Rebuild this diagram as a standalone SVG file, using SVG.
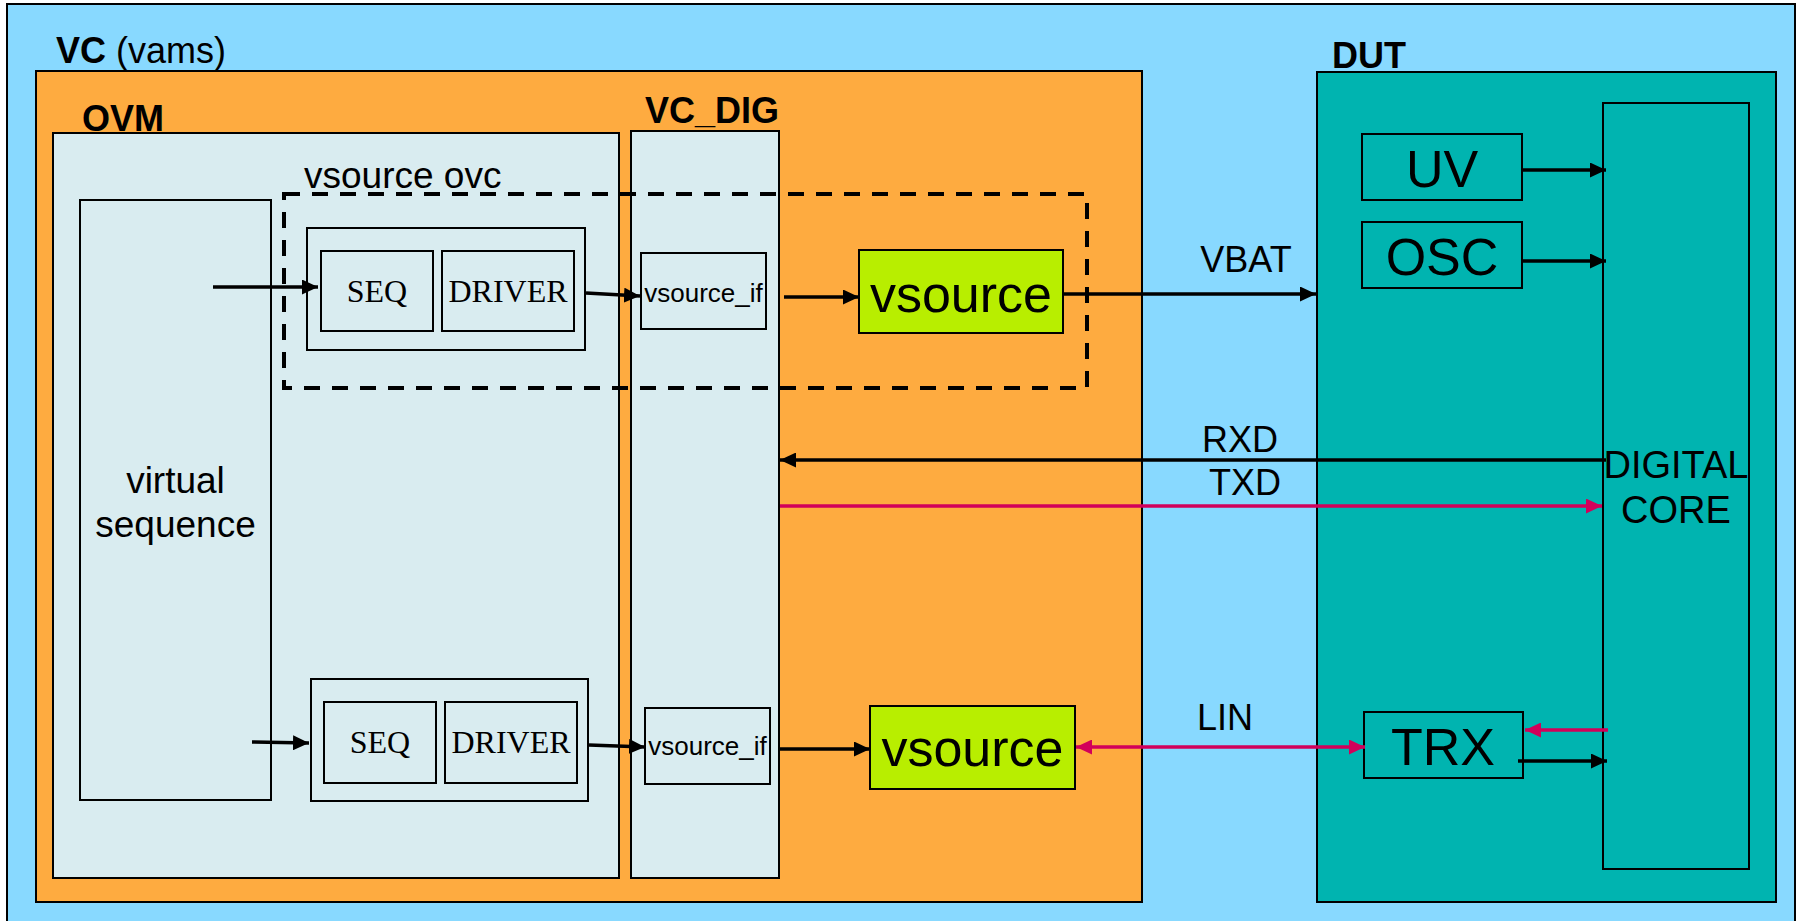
<svg xmlns="http://www.w3.org/2000/svg" width="1797" height="921" viewBox="0 0 1797 921">
  <style>
    text { font-family: "Liberation Sans", Arial, sans-serif; fill: #000; }
    .lbl { font-size: 36px; }
    .lbl37 { font-size: 37px; }
    .lbl38 { font-size: 38px; }
    .bold { font-weight: bold; }
    .mid { text-anchor: middle; }
    .big { font-size: 52px; }
    .serif { font-family: "Liberation Serif", "Times New Roman", serif; font-size: 32px; }
    .small { font-size: 26px; }
    .box { stroke: #000; stroke-width: 2; }
    .pale { fill: #D9ECF0; }
    .teal { fill: #00B4B0; }
    .lime { fill: #B8EE00; }
    .wire { fill: none; stroke: #000; stroke-width: 3.5; }
    .wire-red { fill: none; stroke: #D2005A; stroke-width: 3.5; }
  </style>
  <defs>
    <marker id="ah" markerUnits="userSpaceOnUse" markerWidth="17" markerHeight="15" refX="16" refY="7.5" orient="auto">
      <path d="M0,0 L16,7.5 L0,15 z" fill="#000"/>
    </marker>
    <marker id="ah-red" markerUnits="userSpaceOnUse" markerWidth="17" markerHeight="15" refX="16" refY="7.5" orient="auto-start-reverse">
      <path d="M0,0 L16,7.5 L0,15 z" fill="#D2005A"/>
    </marker>
  </defs>

  <rect x="0" y="0" width="1797" height="921" fill="#fff"/>

  <!-- verification component environment -->
  <g id="vc">
    <rect class="box" x="7" y="4" width="1788" height="925" fill="#88D9FF"/>
    <text class="lbl" x="56" y="63"><tspan class="bold">VC</tspan> (vams)</text>
    <rect class="box" x="36" y="71" width="1106" height="831" fill="#FEAB40"/>
  </g>

  <g id="ovm">
    <rect class="box pale" x="53" y="133" width="566" height="745"/>
    <text class="lbl bold" x="82" y="131">OVM</text>
  </g>

  <g id="vc-dig">
    <rect class="box pale" x="631" y="131" width="148" height="747"/>
    <text class="lbl bold" x="645" y="123">VC_DIG</text>
  </g>

  <g id="virtual-sequence">
    <rect class="box pale" x="80" y="200" width="191" height="600" stroke-width="1.5"/>
    <text class="lbl37 mid" x="175.5" y="493">virtual</text>
    <text class="lbl37 mid" x="175.5" y="537">sequence</text>
  </g>

  <g id="vsource-ovc">
    <rect x="284" y="194" width="803" height="194" fill="none" stroke="#000" stroke-width="4" stroke-dasharray="16 12"/>
    <text class="lbl37" x="304" y="188">vsource ovc</text>
  </g>

  <!-- upper agent: sequencer + driver -->
  <g id="agent-1">
    <rect class="box pale" x="307" y="228" width="278" height="122"/>
    <rect class="box pale" x="321" y="251" width="112" height="80"/>
    <text class="serif mid" x="377" y="302">SEQ</text>
    <rect class="box pale" x="442" y="251" width="132" height="80"/>
    <text class="serif mid" x="508" y="302">DRIVER</text>
  </g>

  <!-- lower agent: sequencer + driver -->
  <g id="agent-2">
    <rect class="box pale" x="311" y="679" width="277" height="122"/>
    <rect class="box pale" x="324" y="702" width="112" height="81"/>
    <text class="serif mid" x="380" y="753">SEQ</text>
    <rect class="box pale" x="445" y="702" width="132" height="81"/>
    <text class="serif mid" x="511" y="753">DRIVER</text>
  </g>

  <g id="vsource-if-1">
    <rect class="box pale" x="641" y="253" width="125" height="76"/>
    <text class="small mid" x="703.5" y="302">vsource_if</text>
  </g>
  <g id="vsource-if-2">
    <rect class="box pale" x="645" y="708" width="125" height="76"/>
    <text class="small mid" x="707.5" y="755">vsource_if</text>
  </g>

  <g id="vsource-1">
    <rect class="box lime" x="859" y="250" width="204" height="83"/>
    <text class="big mid" x="961" y="312">vsource</text>
  </g>
  <g id="vsource-2">
    <rect class="box lime" x="870" y="706" width="205" height="83"/>
    <text class="big mid" x="972.5" y="766">vsource</text>
  </g>

  <!-- device under test -->
  <g id="dut">
    <rect class="box teal" x="1317" y="72" width="459" height="830"/>
    <text class="lbl bold" x="1332" y="68">DUT</text>
  </g>
  <g id="digital-core">
    <rect class="box teal" x="1603" y="103" width="146" height="766"/>
    <text class="lbl38 mid" x="1676" y="478">DIGITAL</text>
    <text class="lbl38 mid" x="1676" y="523">CORE</text>
  </g>
  <g id="uv">
    <rect class="box teal" x="1362" y="134" width="160" height="66"/>
    <text class="big mid" x="1442" y="187">UV</text>
  </g>
  <g id="osc">
    <rect class="box teal" x="1362" y="222" width="160" height="66"/>
    <text class="big mid" x="1442" y="275">OSC</text>
  </g>
  <g id="trx">
    <rect class="box teal" x="1364" y="712" width="159" height="66"/>
    <text class="big mid" x="1443" y="765">TRX</text>
  </g>

  <g id="connectors">
    <line class="wire" x1="213" y1="287" x2="318" y2="287" marker-end="url(#ah)"/>
    <line class="wire" x1="252" y1="742" x2="309" y2="743" marker-end="url(#ah)"/>
    <line class="wire" x1="586" y1="293" x2="640" y2="296" marker-end="url(#ah)"/>
    <line class="wire" x1="589" y1="745" x2="645" y2="747" marker-end="url(#ah)"/>
    <line class="wire" x1="784" y1="297" x2="859" y2="297" marker-end="url(#ah)"/>
    <line class="wire" x1="779" y1="749" x2="870" y2="749" marker-end="url(#ah)"/>
    <line class="wire" x1="1063" y1="294" x2="1316" y2="294" marker-end="url(#ah)"/>
    <text class="lbl mid" x="1246" y="272">VBAT</text>
    <line class="wire" x1="1606" y1="460" x2="780" y2="460" marker-end="url(#ah)"/>
    <text class="lbl mid" x="1240" y="452">RXD</text>
    <line class="wire-red" x1="780" y1="506" x2="1602" y2="506" marker-end="url(#ah-red)"/>
    <text class="lbl mid" x="1245" y="495">TXD</text>
    <line class="wire-red" x1="1076" y1="747" x2="1365" y2="747" marker-start="url(#ah-red)" marker-end="url(#ah-red)"/>
    <text class="lbl mid" x="1225" y="730">LIN</text>
    <line class="wire" x1="1522" y1="170" x2="1606" y2="170" marker-end="url(#ah)"/>
    <line class="wire" x1="1522" y1="261" x2="1606" y2="261" marker-end="url(#ah)"/>
    <line class="wire-red" x1="1608" y1="730" x2="1525" y2="730" marker-end="url(#ah-red)"/>
    <line class="wire" x1="1518" y1="761" x2="1607" y2="761" marker-end="url(#ah)"/>
  </g>
</svg>
